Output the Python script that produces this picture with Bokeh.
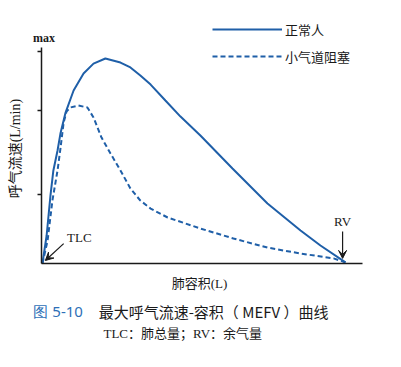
from math import pi

from bokeh.embed import file_html
from bokeh.models import (Arrow, ColumnDataSource, FixedTicker, Label, Legend,
                          LegendItem, Range1d, VeeHead)
from bokeh.plotting import figure
from bokeh.resources import INLINE

# Maximal expiratory flow-volume curves (arbitrary units: volume 0-10, flow 0-10)
normal_volume = [0.03, 0.16, 0.28, 0.37, 0.50, 0.59, 0.75, 1.00, 1.31, 1.62, 1.99,
                 2.46, 2.77, 3.08, 3.40, 3.86, 4.33, 4.95, 5.95, 7.04, 8.07, 8.69, 9.47]
normal_flow = [0.00, 1.32, 3.21, 4.39, 5.33, 6.13, 7.12, 8.16, 8.96, 9.43, 9.67,
               9.48, 9.25, 8.87, 8.44, 7.69, 6.93, 6.04, 4.48, 2.83, 1.56, 0.85, 0.05]

obstructed_volume = [0.03, 0.19, 0.34, 0.50, 0.59, 0.69, 0.78, 0.90, 1.15, 1.43, 1.62, 1.87,
                     2.15, 2.46, 2.77, 3.08, 3.40, 3.93, 4.95, 5.98, 7.04, 8.07, 9.10, 9.47]
obstructed_flow = [0.00, 1.08, 2.97, 4.39, 5.42, 6.65, 7.17, 7.36, 7.45, 7.36, 6.89, 5.94,
                   5.19, 4.39, 3.54, 2.97, 2.59, 2.17, 1.65, 1.18, 0.75, 0.47, 0.24, 0.05]

flow_ticks = [3.25, 7.22, 10.0]
series_names = ["正常人", "小气道阻塞"]

BLUE = "#1f5fa8"
INK = "#1a1a1a"
CJK = "Noto Sans CJK SC"
SERIF = "Liberation Serif"
MIXED = "'Liberation Serif', 'Noto Sans CJK SC'"

X_MAX, Y_MAX = 10.0, 10.19

# The frame spans the whole canvas so that captions and labels stay visible;
# the axes are pinned at the data origin.
p = figure(width=401, height=367, output_backend="svg", toolbar_location=None,
           x_range=Range1d(-1.277, 11.215), y_range=Range1d(-4.906, 12.406),
           min_border=0)
p.outline_line_color = None
p.grid.visible = False
p.background_fill_color = "white"
p.border_fill_color = "white"

for ax in (p.xaxis[0], p.yaxis[0]):
    ax.fixed_location = 0
    ax.axis_line_color = INK
    ax.axis_line_width = 1.5
    ax.major_tick_line_color = INK
    ax.major_tick_line_width = 1.5
    ax.minor_tick_line_color = None
p.xaxis.bounds = (0, X_MAX)
p.yaxis.bounds = (0, Y_MAX)
p.xaxis.ticker = FixedTicker(ticks=[])
p.yaxis.ticker = FixedTicker(ticks=flow_ticks)
p.yaxis.major_label_overrides = {t: "" for t in flow_ticks}
p.yaxis.major_tick_out = 4
p.yaxis.major_tick_in = 0

normal_src = ColumnDataSource(dict(v=normal_volume, f=normal_flow))
obst_src = ColumnDataSource(dict(v=obstructed_volume, f=obstructed_flow))

r_obst = p.line("v", "f", source=obst_src, line_color=BLUE, line_width=2,
                line_dash="5 3")
r_norm = p.line("v", "f", source=normal_src, line_color=BLUE, line_width=2)

legend = Legend(items=[LegendItem(label=series_names[0], renderers=[r_norm]),
                       LegendItem(label=series_names[1], renderers=[r_obst])],
                location=(212, 301), orientation="vertical",
                glyph_width=70, glyph_height=20, label_height=20,
                label_standoff=3, spacing=7, padding=0, margin=0,
                border_line_color=None, background_fill_alpha=0,
                label_text_font=CJK, label_text_font_size="13px",
                label_text_color=INK)
p.add_layout(legend, "center")

# Axis annotations
p.add_layout(Label(x=0.08, y=10.66, text="max", text_font=SERIF,
                   text_font_style="bold", text_font_size="12px",
                   text_color=INK, text_align="center", text_baseline="middle"))
p.add_layout(Label(x=-0.81, y=5.42, text="呼气流速(L/min)", angle=pi / 2,
                   text_font=MIXED, text_font_size="14px", text_color=INK,
                   text_align="center", text_baseline="middle"))
p.add_layout(Label(x=4.92, y=-0.94, text="肺容积(L)", text_font=MIXED,
                   text_font_size="13px", text_color=INK,
                   text_align="center", text_baseline="middle"))

# TLC / RV markers
p.add_layout(Label(x=1.18, y=1.23, text="TLC", text_font=SERIF,
                   text_font_size="13px", text_color=INK,
                   text_align="center", text_baseline="middle"))
p.add_layout(Arrow(x_start=0.69, y_start=0.94, x_end=0.12, y_end=0.14,
                   line_color=INK, line_width=1.2,
                   end=VeeHead(size=8, fill_color=INK, line_color=INK)))
p.add_layout(Label(x=9.38, y=1.98, text="RV", text_font=SERIF,
                   text_font_size="13px", text_color=INK,
                   text_align="center", text_baseline="middle"))
p.add_layout(Arrow(x_start=9.38, y_start=1.51, x_end=9.38, y_end=0.24,
                   line_color=INK, line_width=1.2,
                   end=VeeHead(size=8, fill_color=INK, line_color=INK)))

# Figure caption
p.add_layout(Label(x=-0.25, y=-2.26, text="图 5-10", text_font="Noto Sans",
                   text_font_size="15px", text_color="#2e6fb7",
                   text_align="left", text_baseline="middle"))
p.add_layout(Label(x=1.78, y=-2.26, text="最大呼气流速-容积（ MEFV ）曲线",
                   text_font=CJK, text_font_size="15px", text_color=INK,
                   text_align="left", text_baseline="middle"))
p.add_layout(Label(x=1.93, y=-3.30, text="TLC：肺总量；RV：余气量",
                   text_font=MIXED, text_font_size="13px", text_color=INK,
                   text_align="left", text_baseline="middle"))

open("out.html", "w").write(file_html(p, INLINE))
